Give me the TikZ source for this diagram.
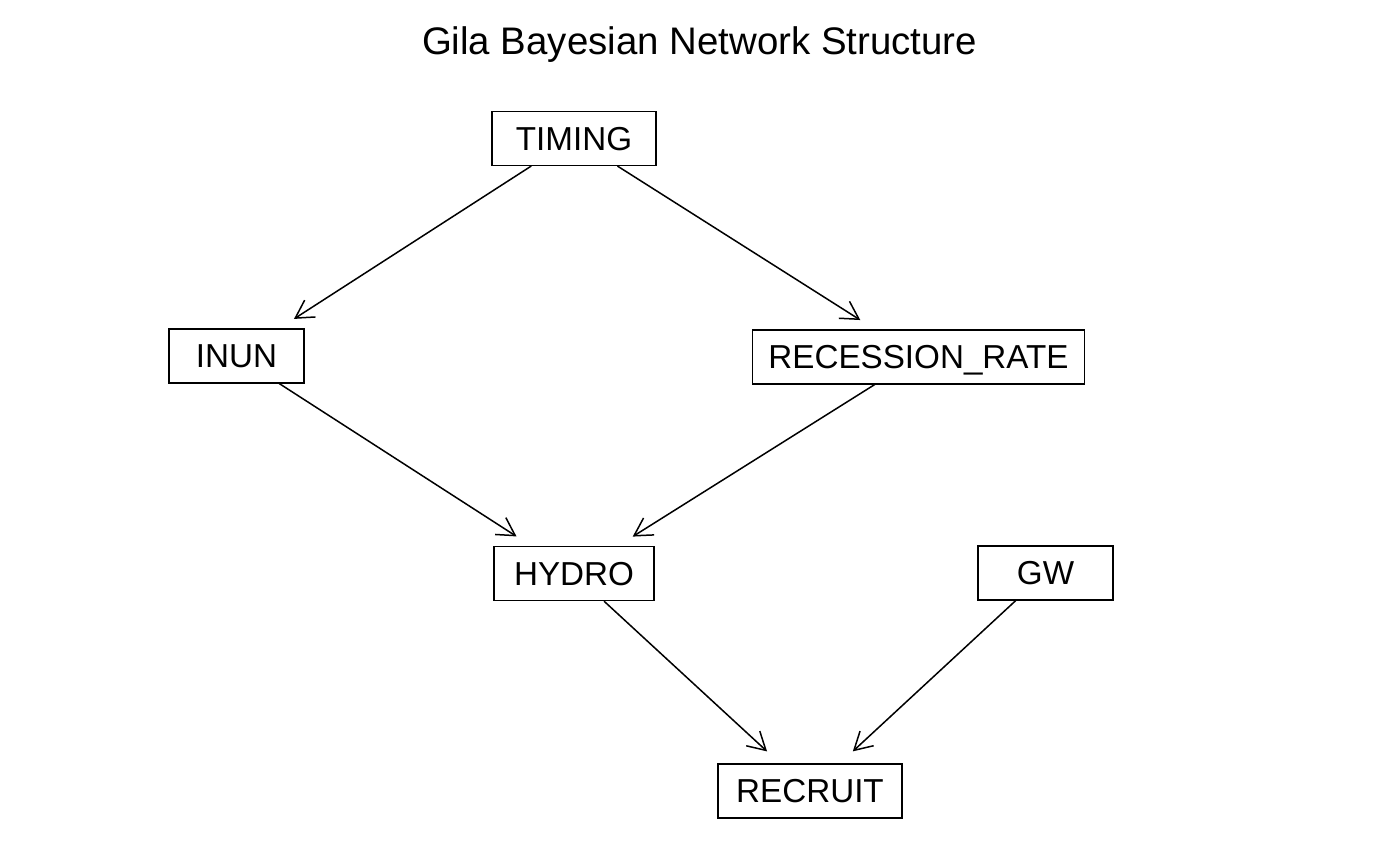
\documentclass[tikz,border=0pt]{standalone}
\usepackage{fontspec}
\setmainfont{Liberation Sans}
\usetikzlibrary{arrows.meta}
\begin{document}
\begin{tikzpicture}[x=0.5pt,y=-0.5pt,
  nodebox/.style={draw, line width=0.75pt, inner sep=0pt, outer sep=0pt,
    minimum height=27pt, font=\fontsize{16.6}{19}\selectfont,
    text height=11.9pt, text depth=0pt},
  edge/.style={line width=0.75pt, -{Straight Barb[length=8.8pt,width=10pt]},
    shorten >=9.3pt, shorten <=0.5pt}]
\useasboundingbox (0,0) rectangle (1400,865);
\node[anchor=base, font=\fontsize{19.2}{23}\selectfont] (title) at (699.5,55) {Gila Bayesian Network Structure};
\node[nodebox, minimum width=82pt] (TIMING) at (574,138.5) {TIMING};
\node[nodebox, minimum width=67.5pt] (INUN) at (236.5,356) {INUN};
\node[nodebox, minimum width=166pt] (RECESSION) at (918.5,357) {RECESSION\_RATE};
\node[nodebox, minimum width=80pt] (HYDRO) at (574,573.5) {HYDRO};
\node[nodebox, minimum width=67.5pt] (GW) at (1045.5,573) {GW};
\node[nodebox, minimum width=92pt] (RECRUIT) at (810,791) {RECRUIT};
\draw[edge] (TIMING) -- (INUN);
\draw[edge] (TIMING) -- (RECESSION);
\draw[edge] (INUN) -- (HYDRO);
\draw[edge] (RECESSION) -- (HYDRO);
\draw[edge] (HYDRO) -- (RECRUIT);
\draw[edge] (GW) -- (RECRUIT);
\end{tikzpicture}
\end{document}
